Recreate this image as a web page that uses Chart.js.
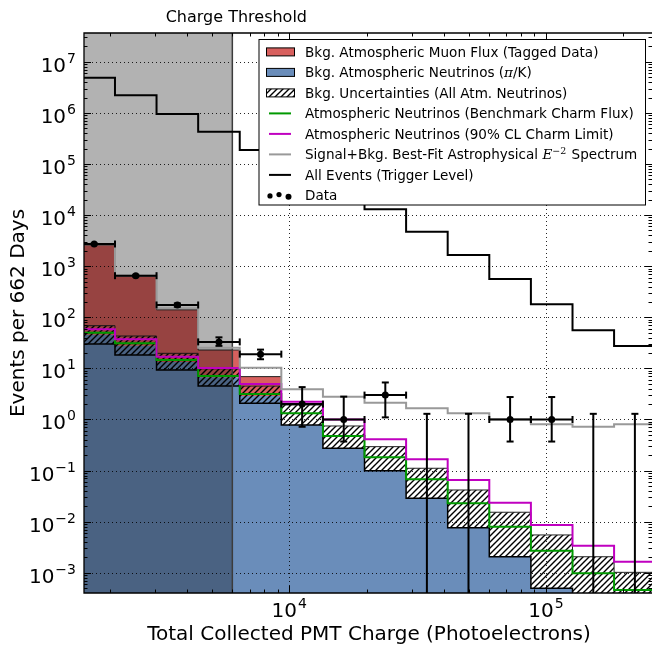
<!DOCTYPE html>
<html>
<head>
<meta charset="utf-8">
<script src="https://cdn.jsdelivr.net/npm/chart.js@4.4.0/dist/chart.umd.min.js"></script>
<style>
  html, body { margin: 0; padding: 0; background: #fff; }
</style>
</head>
<body>
<canvas id="chargeChart" width="652" height="645"></canvas>
<script>
// histogram bin edges, total collected PMT charge (photoelectrons)
const binEdges = [1442, 2094, 3040, 4416, 6412, 9311, 13524, 19637, 28514, 41404, 60138, 87339, 126860, 184180, 267530];
const chargeThreshold = 6000;

// events per 662 days, one value per bin
const allEvents      = [4.89e6, 2.21e6, 9.5e5, 4.29e5, 1.88e5, 8.0e4, 3.5e4, 1.3e4, 4730, 1660, 561, 180, 55.6, 27.4];
const signalPlusBkg  = [2680, 660, 150, 25.4, 10.3, 3.9, 2.79, 2.13, 1.66, 1.32, 1.01, 0.805, 0.723, 0.805];
const charmLimit     = [58.2, 37.1, 16.9, 10.2, 4.95, 2.23, 1.0, 0.41, 0.166, 0.0655, 0.0235, 0.0086, 0.00339, 0.00165];
const charmBenchmark = [50, 31, 14.6, 7.1, 3.16, 1.32, 0.475, 0.182, 0.0676, 0.0229, 0.00798, 0.00271, 0.00098, 0.000458];
const nuUncertHigh   = [68.5, 43, 19.7, 9.8, 4.5, 1.92, 0.746, 0.294, 0.111, 0.0417, 0.0153, 0.0055, 0.00206, 0.00102];
const piKNeutrinos   = [30, 18.3, 9.3, 4.5, 2.07, 0.78, 0.273, 0.0995, 0.0287, 0.00763, 0.00206, 0.000498, 0.0002, 0.0001];
// muon background (first five bins only), stacked on the neutrinos
const muonStackTop   = [2600, 643, 140, 22.9, 6.9];
const muonStackBase  = [45.7, 27.8, 13.3, 6.7, 2.88];

// observed data with asymmetric errors (0 counts -> upper limit only)
const dataCounts  = [2720, 652, 174, 33, 19, 2, 1, 3, 0, 0, 1, 1, 0, 0];
const dataErrLow  = [2668, 626, 161, 27.6, 15.1, 0.72, 0.37, 1.1, null, null, 0.37, 0.37, null, null];
const dataErrHigh = [2772, 678, 187, 40.5, 23.3, 4.3, 2.8, 5.3, 1.29, 1.29, 2.75, 2.75, 1.29, 1.29];

const yTickExps = [-3, -2, -1, 0, 1, 2, 3, 4, 5, 6, 7];
const xTickExps = [4, 5];
const xMin = 1586, xMax = 2.588e5;
const yMin = 4.02e-4, yMax = 3.66e7;

const RED = '#d8605e', BLUE = '#6a8dba', GREEN = '#009900', MAGENTA = '#c000c0', GREY = '#999999';
const FONT = '"DejaVu Sans", sans-serif';

const canvas = document.getElementById('chargeChart');
const ctx = canvas.getContext('2d');

function makeHatch() {
  const c = document.createElement('canvas');
  c.width = 6; c.height = 6;
  const g = c.getContext('2d');
  g.strokeStyle = '#000';
  g.lineWidth = 1.4;
  g.beginPath();
  g.moveTo(-1, 7); g.lineTo(7, -1);
  g.moveTo(-1, 1); g.lineTo(1, -1);
  g.moveTo(5, 7); g.lineTo(7, 5);
  g.stroke();
  return ctx.createPattern(c, 'repeat');
}
const hatch = makeHatch();

// histogram as stepped points: left edges plus the closing right edge
function steps(values, first = 0) {
  const pts = values.map((v, i) => ({ x: binEdges[first + i], y: v }));
  pts.push({ x: binEdges[first + values.length], y: values[values.length - 1] });
  return pts;
}
const binCenters = dataCounts.map((_, i) => Math.sqrt(binEdges[i] * binEdges[i + 1]));

const lineBase = { stepped: true, pointRadius: 0, fill: false, tension: 0 };

const datasets = [
  { ...lineBase, label: 'Data', showLine: false, pointRadius: 3.5, pointBackgroundColor: '#000', pointBorderWidth: 0,
    data: dataCounts.map((v, i) => ({ x: binCenters[i], y: v > 0 ? v : null })) },
  { ...lineBase, label: 'All Events', data: steps(allEvents), borderColor: '#000', borderWidth: 2 },
  { ...lineBase, label: 'Signal+Bkg', data: steps(signalPlusBkg), borderColor: GREY, borderWidth: 2 },
  { ...lineBase, label: 'Charm limit', data: steps(charmLimit), borderColor: MAGENTA, borderWidth: 2 },
  { ...lineBase, label: 'Charm benchmark', data: steps(charmBenchmark), borderColor: GREEN, borderWidth: 2 },
  { ...lineBase, label: 'threshold', stepped: false, borderWidth: 0, fill: 'start', backgroundColor: 'rgba(0,0,0,0.3)',
    data: [{ x: binEdges[0] / 2, y: yMax * 2 }, { x: chargeThreshold, y: yMax * 2 }] },
  { ...lineBase, label: 'uncert high', data: steps(nuUncertHigh), borderColor: '#222', borderWidth: 1, fill: '+1', backgroundColor: hatch },
  { ...lineBase, label: 'uncert low', data: steps(piKNeutrinos), borderColor: '#000', borderWidth: 1.5 },
  { ...lineBase, label: 'muon', data: steps(muonStackTop), borderColor: '#222', borderWidth: 1, fill: '+1', backgroundColor: RED },
  { ...lineBase, label: 'muon base', data: steps(muonStackBase), borderWidth: 0, fill: '+1', backgroundColor: BLUE },
  { ...lineBase, label: 'pi/K', data: steps(piKNeutrinos), borderWidth: 0, fill: 'start', backgroundColor: BLUE }
];

function seg(c, x1, y1, x2, y2) { c.beginPath(); c.moveTo(x1, y1); c.lineTo(x2, y2); c.stroke(); }

function drawGrid(chart) {
  const c = chart.ctx, a = chart.chartArea, xs = chart.scales.x, ys = chart.scales.y;
  c.save();
  c.strokeStyle = 'rgba(0,0,0,0.85)';
  c.lineWidth = 1;
  c.setLineDash([1, 3]);
  yTickExps.forEach(e => { const y = Math.round(ys.getPixelForValue(Math.pow(10, e))) + 0.5; seg(c, a.left, y, a.right, y); });
  xTickExps.forEach(e => { const x = Math.round(xs.getPixelForValue(Math.pow(10, e))) + 0.5; seg(c, x, a.top, x, a.bottom); });
  c.setLineDash([]);
  // charge threshold edge
  const tx = xs.getPixelForValue(chargeThreshold);
  c.strokeStyle = '#3c3c3c';
  c.lineWidth = 1.5;
  seg(c, tx, a.top, tx, a.bottom);
  c.restore();
}

function drawErrorBars(chart) {
  const c = chart.ctx, a = chart.chartArea, xs = chart.scales.x, ys = chart.scales.y;
  c.save();
  c.beginPath(); c.rect(a.left, a.top, a.right - a.left, a.bottom - a.top); c.clip();
  c.strokeStyle = '#000';
  c.lineWidth = 2;
  const cap = 3.5;
  dataCounts.forEach((v, i) => {
    const x = xs.getPixelForValue(binCenters[i]);
    const yHi = ys.getPixelForValue(dataErrHigh[i]);
    if (v > 0) {
      const y = ys.getPixelForValue(v);
      const xl = xs.getPixelForValue(binEdges[i]), xr = xs.getPixelForValue(binEdges[i + 1]);
      const yLo = ys.getPixelForValue(dataErrLow[i]);
      seg(c, xl, y, xr, y);
      seg(c, xl, y - cap, xl, y + cap);
      seg(c, xr, y - cap, xr, y + cap);
      seg(c, x, yLo, x, yHi);
      seg(c, x - cap, yLo, x + cap, yLo);
    } else {
      seg(c, x, a.bottom + 2, x, yHi);
    }
    seg(c, x - cap, yHi, x + cap, yHi);
  });
  c.restore();
}

function powLabel(c, exp, x, y, align) {
  const base = '10', sup = exp < 0 ? '\u2212' + (-exp) : String(exp);
  c.font = '20px ' + FONT; const wb = c.measureText(base).width;
  c.font = '14px ' + FONT; const ws = c.measureText(sup).width;
  const w = wb + ws + 1;
  const x0 = align === 'right' ? x - w : x - w / 2;
  c.font = '20px ' + FONT; c.fillText(base, x0, y);
  c.font = '14px ' + FONT; c.fillText(sup, x0 + wb + 1, y - 9);
}

function drawFrame(chart) {
  const c = chart.ctx, a = chart.chartArea, xs = chart.scales.x, ys = chart.scales.y;
  c.save();
  c.strokeStyle = '#000';
  c.lineWidth = 1;
  for (let e = -4; e <= 8; e++) {
    for (let k = 1; k <= 9; k++) {
      const v = k * Math.pow(10, e), len = k === 1 ? 7 : 3.5;
      if (v >= yMin && v <= yMax) {
        const y = Math.round(ys.getPixelForValue(v)) + 0.5;
        seg(c, a.left, y, a.left + len, y);
        seg(c, a.right, y, a.right - len, y);
      }
      if (v >= xMin && v <= xMax) {
        const x = Math.round(xs.getPixelForValue(v)) + 0.5;
        seg(c, x, a.bottom, x, a.bottom - len);
        seg(c, x, a.top, x, a.top + len);
      }
    }
  }
  c.lineWidth = 1.3;
  c.beginPath();
  c.moveTo(a.right + 2, a.top); c.lineTo(a.left, a.top); c.lineTo(a.left, a.bottom); c.lineTo(a.right + 2, a.bottom);
  c.stroke();

  c.fillStyle = '#000';
  c.textAlign = 'left';
  c.textBaseline = 'alphabetic';
  yTickExps.forEach(e => powLabel(c, e, a.left - 8, ys.getPixelForValue(Math.pow(10, e)) + 10, 'right'));
  xTickExps.forEach(e => powLabel(c, e, xs.getPixelForValue(Math.pow(10, e)), a.bottom + 24, 'center'));

  c.textAlign = 'center';
  c.font = '20px ' + FONT;
  c.fillText('Total Collected PMT Charge (Photoelectrons)', (a.left + a.right + 2) / 2, 640);
  c.save();
  c.translate(24, (a.top + a.bottom) / 2);
  c.rotate(-Math.PI / 2);
  c.fillText('Events per 662 Days', 0, 0);
  c.restore();
  c.font = '16px ' + FONT;
  c.fillText('Charge Threshold', xs.getPixelForValue(chargeThreshold) + 4, a.top - 11);
  c.restore();
}

const legendRows = [
  { kind: 'patch', color: RED, parts: [{ t: 'Bkg. Atmospheric Muon Flux (Tagged Data)' }] },
  { kind: 'patch', color: BLUE, parts: [{ t: 'Bkg. Atmospheric Neutrinos (' }, { t: '\u03c0', math: true }, { t: '/K)' }] },
  { kind: 'hatch', parts: [{ t: 'Bkg. Uncertainties (All Atm. Neutrinos)' }] },
  { kind: 'line', color: GREEN, parts: [{ t: 'Atmospheric Neutrinos (Benchmark Charm Flux)' }] },
  { kind: 'line', color: MAGENTA, parts: [{ t: 'Atmospheric Neutrinos (90% CL Charm Limit)' }] },
  { kind: 'line', color: GREY, parts: [{ t: 'Signal+Bkg. Best-Fit Astrophysical ' }, { t: 'E', math: true }, { t: '\u22122', sup: true }, { t: ' Spectrum' }] },
  { kind: 'line', color: '#000', parts: [{ t: 'All Events (Trigger Level)' }] },
  { kind: 'dots', parts: [{ t: 'Data' }] }
];

function drawLegend(chart) {
  const c = chart.ctx, a = chart.chartArea;
  const bw = 386.5, bh = 165.5;
  const bx = a.right - 6.5 - bw, by = a.top + 6.5;
  c.save();
  c.fillStyle = '#fff';
  c.fillRect(bx, by, bw, bh);
  c.strokeStyle = '#000';
  c.lineWidth = 1;
  c.strokeRect(bx, by, bw, bh);
  legendRows.forEach((row, i) => {
    const cy = by + 12.4 + i * 20.5;
    if (row.kind === 'patch' || row.kind === 'hatch') {
      c.fillStyle = row.kind === 'patch' ? row.color : '#fff';
      c.fillRect(bx + 7.5, cy - 4, 28, 8);
      if (row.kind === 'hatch') { c.fillStyle = hatch; c.fillRect(bx + 7.5, cy - 4, 28, 8); }
      c.strokeStyle = '#000'; c.lineWidth = 1;
      c.strokeRect(bx + 7.5, cy - 4, 28, 8);
    } else if (row.kind === 'line') {
      c.strokeStyle = row.color; c.lineWidth = 2;
      seg(c, bx + 10, cy, bx + 32, cy);
    } else {
      c.fillStyle = '#000';
      [[11, 0.5, 2.6], [20, -0.8, 2.6], [29.5, 1.3, 3]].forEach(([dx, dy, r]) => {
        c.beginPath(); c.arc(bx + dx, cy + dy, r, 0, Math.PI * 2); c.fill();
      });
    }
    c.fillStyle = '#000';
    c.textAlign = 'left';
    c.textBaseline = 'alphabetic';
    let x = bx + 46;
    row.parts.forEach(p => {
      let dy = 0;
      if (p.math) c.font = 'italic 13.5px "DejaVu Serif", serif';
      else if (p.sup) { c.font = '9.5px "DejaVu Serif", serif'; dy = -5.5; }
      else c.font = '13.55px ' + FONT;
      c.fillText(p.t, x, cy + 5 + dy);
      x += c.measureText(p.t).width + (p.sup ? 1 : 0);
    });
  });
  c.restore();
}

const decorPlugin = {
  id: 'decor',
  afterDatasetDraw(chart, args) { if (args.index === 5) drawGrid(chart); },
  afterDatasetsDraw(chart) { drawErrorBars(chart); drawFrame(chart); },
  afterDraw(chart) { drawLegend(chart); }
};

new Chart(ctx, {
  type: 'line',
  data: { datasets: datasets },
  plugins: [decorPlugin],
  options: {
    responsive: false,
    animation: false,
    devicePixelRatio: 1,
    layout: { autoPadding: false, padding: { left: 84, top: 33, right: 0, bottom: 52 } },
    plugins: {
      legend: { display: false },
      tooltip: { enabled: false },
      filler: { propagate: false }
    },
    scales: {
      x: { type: 'logarithmic', min: xMin, max: xMax, bounds: 'data', display: false },
      y: { type: 'logarithmic', min: yMin, max: yMax, bounds: 'data', display: false }
    }
  }
});
</script>
</body>
</html>
